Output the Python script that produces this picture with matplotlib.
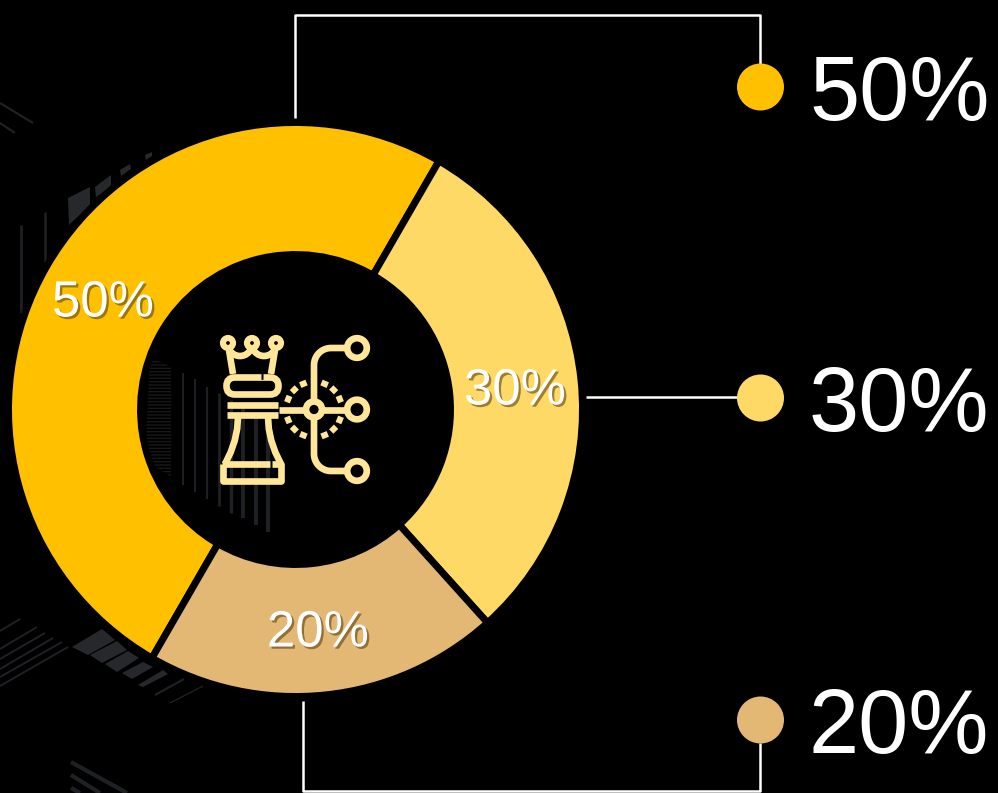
import numpy as np
import matplotlib
matplotlib.use('Agg')
import matplotlib.pyplot as plt
import matplotlib.patheffects as pe
from matplotlib.patches import Arc, Circle, FancyBboxPatch, Polygon

WIDTH = 998
HEIGHT = 793

shares = [50, 30, 20]
share_colors = ['#FFC000', '#FFD966', '#E3B875']
label_positions = [(103, 303), (515, 391), (318, 633)]
legend_rows = [87, 398, 720]
legend_text_rows = [87, 398, 720]

ICON = '#FFE699'
ICON_LW = 4.8


def py(y):
    # screen rows run downwards, the axes run upwards
    return HEIGHT - np.asarray(y, dtype=float)


def stroke(ax, xs, ys, color=ICON, lw=ICON_LW, z=5, cap='butt'):
    ax.plot(xs, py(ys), color=color, lw=lw, zorder=z, solid_capstyle=cap, solid_joinstyle='round')


def draw_backdrop(ax):
    """
    Faint building texture behind the ring
    """
    quads = [
        [(68, 198), (90, 187), (90, 205), (69, 225)],
        [(95, 187), (111, 175), (111, 187), (96, 197)],
        [(120, 170), (130, 164), (131, 169), (121, 176)],
        [(145, 155), (152, 152), (152, 156), (146, 160)],
        [(72, 647), (102, 629), (115, 640), (88, 655)],
        [(90, 655), (117, 641), (127, 650), (102, 663)],
        [(105, 664), (128, 651), (139, 658), (117, 672)],
        [(122, 673), (143, 662), (153, 667), (132, 679)],
        [(138, 685), (163, 670), (168, 674), (143, 687)],
    ]
    for quad in quads:
        pts = [(x, HEIGHT - y) for x, y in quad]
        ax.add_patch(Polygon(pts, closed=True, facecolor='#26282B', edgecolor='none', zorder=1))

    lines = [
        ((21, 225), (21, 313), 2.0), ((45, 212), (45, 262), 1.8),
        ((0, 103), (33, 123), 1.6), ((0, 123), (15, 133), 1.6),
        ((155, 695), (184, 679), 1.6), ((170, 703), (203, 686), 1.0),
        ((0, 631), (20, 619), 1.4), ((0, 649), (37, 627), 1.4),
        ((0, 659), (45, 633), 1.4), ((0, 669), (53, 638), 1.4),
        ((0, 677), (62, 642), 1.4), ((0, 686), (68, 647), 1.4),
        ((71, 762), (127, 793), 3.0), ((71, 775), (100, 793), 3.0),
        ((71, 788), (80, 793), 3.0),
        ((183, 373), (183, 485), 1.4), ((195, 379), (195, 492), 1.4),
        ((207, 387), (207, 499), 1.6), ((219, 393), (219, 506), 2.0),
        ((231, 400), (231, 513), 2.4), ((243, 407), (243, 518), 2.8),
        ((256, 414), (256, 525), 3.0), ((268, 421), (268, 532), 3.0),
    ]
    for start, end, lw in lines:
        stroke(ax, [start[0], end[0]], [start[1], end[1]], color='#1F2023', lw=lw, z=1)

    block = [(150, 357), (171, 367), (171, 477), (145, 460)]
    ax.add_patch(Polygon([(x, HEIGHT - y) for x, y in block], closed=True, facecolor='none',
                         edgecolor='#17181A', hatch='-----', lw=0, zorder=1))


def draw_rook(ax):
    # crown
    for x in [228, 252, 276]:
        ax.add_patch(Circle((x, HEIGHT - 343), 5.0, facecolor='black', edgecolor=ICON, lw=4.4, zorder=6))
    stroke(ax, [229, 233], [350, 374])
    stroke(ax, [275, 271], [350, 374])
    ax.add_patch(Arc((240, HEIGHT - 344), 24, 24, theta1=180, theta2=360, color=ICON, lw=ICON_LW, zorder=5))
    ax.add_patch(Arc((264, HEIGHT - 344), 24, 24, theta1=180, theta2=360, color=ICON, lw=ICON_LW, zorder=5))

    # collar with its small break on top
    ax.add_patch(FancyBboxPatch((226.5, HEIGHT - 394.5), 52, 17, boxstyle='round,pad=0,rounding_size=8.5',
                                facecolor='black', edgecolor=ICON, lw=ICON_LW, zorder=5))
    stroke(ax, [261, 263], [376, 376], color='black', lw=ICON_LW, z=6)

    # bands under the collar
    stroke(ax, [227, 278], [405, 405])
    stroke(ax, [227, 278], [414.5, 414.5])

    # tapered body down to the base
    t = np.array([0.0, 0.25, 0.5, 0.75, 1.0])
    left = 238 - 13 * t ** 2
    right = 268 + 13 * t ** 2
    rows = 417 + 47 * t
    stroke(ax, left, rows)
    stroke(ax, right, rows)

    # base
    stroke(ax, [222, 270], [464, 464])
    stroke(ax, [272, 281, 281, 223, 223], [464, 464, 481, 481, 464])


def draw_tree(ax):
    hub_x, hub_y = 314, 409.5
    node_x = 357
    node_rows = [348, 409.5, 471]
    bend = 17

    stroke(ax, [279, node_x - 9], [hub_y, hub_y])

    # trunk with rounded bends into the top and bottom branches
    a = np.radians(np.linspace(180, 90, 12))
    top_x = hub_x + bend + bend * np.cos(a)
    top_y = node_rows[0] + bend - bend * np.sin(a)
    bottom_x = hub_x + bend + bend * np.cos(a[::-1])
    bottom_y = node_rows[2] - bend + bend * np.sin(a[::-1])
    xs = np.concatenate([[node_x - 9], top_x[::-1], bottom_x[::-1], [node_x - 9]])
    ys = np.concatenate([[node_rows[0]], top_y[::-1], bottom_y[::-1], [node_rows[2]]])
    stroke(ax, xs, ys)

    ax.add_patch(Circle((hub_x, HEIGHT - hub_y), 8.0, facecolor='black', edgecolor=ICON, lw=ICON_LW, zorder=6))
    for row in node_rows:
        ax.add_patch(Circle((node_x, HEIGHT - row), 9.8, facecolor='black', edgecolor=ICON, lw=ICON_LW, zorder=6))

    # dashes around the hub
    for side in [0, 180]:
        for angle in [-67.5, -45, -22, 22, 45, 67.5]:
            a = np.radians(side + angle)
            da = np.radians(7)
            xs = hub_x + 28 * np.cos([a - da, a + da])
            ys = hub_y - 28 * np.sin([a - da, a + da])
            stroke(ax, xs, ys, lw=4.4)


def draw_connectors(ax):
    white = '#FFFFFF'
    stroke(ax, [295, 295, 760.5, 760.5], [118, 15, 15, 64], color=white, lw=1.8, z=2)
    stroke(ax, [586, 738], [397, 397], color=white, lw=1.8, z=2)
    stroke(ax, [303, 303, 760.5, 760.5], [701, 791, 791, 743], color=white, lw=1.8, z=2)


def draw_ring(ax):
    ax.pie(shares, colors=share_colors, startangle=240, counterclock=False,
           center=(295.5, HEIGHT - 409.5), radius=287, frame=False,
           wedgeprops={'width': 132, 'edgecolor': 'black', 'linewidth': 5.0, 'zorder': 3})
    for value, (x, y) in zip(shares, label_positions):
        txt = ax.text(x, HEIGHT - y, '{}%'.format(value), color='white', fontsize=36.7,
                      ha='center', va='center', zorder=7)
        txt.set_path_effects([pe.SimplePatchShadow(offset=(1.6, -1.6), shadow_rgbFace='#5A4410', alpha=0.6),
                              pe.Normal()])


def draw_legend(ax):
    for value, color, row, text_row in zip(shares, share_colors, legend_rows, legend_text_rows):
        ax.add_patch(Circle((760.5, HEIGHT - row), 23.5, facecolor=color, edgecolor='none', zorder=4))
        ax.text(809, HEIGHT - text_row, '{}%'.format(value), color='white', fontsize=65,
                ha='left', va='center_baseline', zorder=4)


if __name__ == '__main__':
    plt.rcParams['font.family'] = ['Liberation Sans', 'DejaVu Sans']
    fig = plt.figure(figsize=(WIDTH / 100, HEIGHT / 100), dpi=100, facecolor='black')
    ax = fig.add_axes([0, 0, 1, 1])
    ax.set_facecolor('black')

    draw_backdrop(ax)
    draw_connectors(ax)
    draw_ring(ax)
    draw_rook(ax)
    draw_tree(ax)
    draw_legend(ax)

    ax.set_xlim(0, WIDTH)
    ax.set_ylim(0, HEIGHT)
    ax.set_aspect('equal')
    ax.axis('off')
    fig.savefig('out.png', dpi=100, facecolor='black')
